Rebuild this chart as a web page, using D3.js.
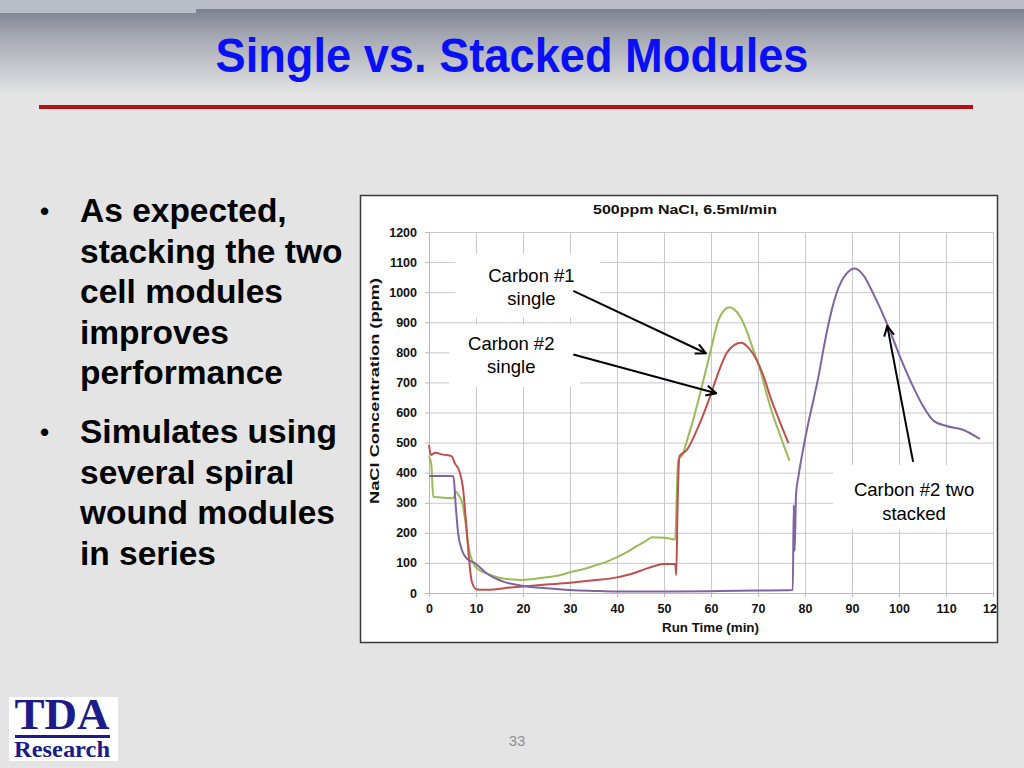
<!DOCTYPE html>
<html>
<head>
<meta charset="utf-8">
<script src="https://d3js.org/d3.v7.min.js"></script>
<style>
  body { margin: 0; background: #e4e4e4; }
  svg { display: block; }
</style>
</head>
<body>
<svg id="slide" width="1024" height="768"></svg>
<script>
// ---- data ----
const xTicks = [0, 10, 20, 30, 40, 50, 60, 70, 80, 90, 100, 110, 120];
const yTicks = [0, 100, 200, 300, 400, 500, 600, 700, 800, 900, 1000, 1100, 1200];

// Carbon #1 single (green)
const c1Time = [0, 0.5, 0.9, 2, 3, 4, 5.2, 5.7, 6.3, 7.0, 7.7, 8.4, 9.4, 10.5, 12.3, 14, 15.8, 17.5, 19.4, 22, 25, 28, 30, 33, 35, 38, 40, 42, 44, 46, 47.5, 50, 52.4, 52.7, 53.0, 54.1, 54.5, 56.2, 57.3, 58.4, 59.8, 61.6, 62.8, 63.9, 65, 66.2, 67.5, 69, 70.5, 71.8, 73, 74.3, 75.5, 76.7];
const c1Value = [455, 425, 320, 318, 317, 316, 315, 337, 325, 304, 243, 154, 99, 78, 65, 55, 48, 45, 43, 46, 52, 60, 69, 80, 90, 105, 119, 135, 154, 172, 185, 184, 178, 320, 440, 464, 486, 575, 640, 708, 797, 908, 940, 950, 942, 919, 875, 808, 740, 664, 600, 542, 490, 440];

// Carbon #2 single (red)
const c2Time = [0, 0.4, 1.3, 3, 4.8, 5.5, 6.5, 7.2, 7.9, 8.6, 9.1, 10.1, 12, 13.7, 16, 19.4, 25, 30, 35, 40, 43, 45, 48, 50, 52.4, 52.6, 52.9, 53.3, 54.1, 54.8, 57, 59.8, 61.5, 63.3, 65, 66.4, 68, 69.7, 71.2, 72.6, 74.5, 76.5];
const c2Value = [492, 459, 466, 460, 455, 431, 403, 353, 232, 99, 38, 12, 11, 12, 16, 21, 28, 34, 42, 52, 63, 74, 90, 96, 96, 60, 300, 455, 466, 475, 542, 653, 730, 797, 825, 832, 815, 775, 720, 653, 575, 498];

// Carbon #2 two stacked (purple)
const c3Time = [0, 2, 4, 5.2, 5.7, 6.2, 7.0, 8.0, 9.8, 12.3, 15.8, 19.4, 25, 30, 35, 40, 50, 60, 70, 77.4, 77.6, 77.8, 78.1, 78.6, 79.7, 80.7, 81.8, 83, 83.9, 84.8, 86.7, 88.9, 90.6, 92.4, 94.5, 97.4, 100.2, 103, 105.2, 107.3, 110.1, 113.7, 117.2];
const c3Value = [389, 389, 389, 388, 287, 198, 143, 115, 99, 65, 38, 25, 16, 10, 7, 5, 5, 6, 8, 10, 292, 140, 330, 387, 486, 565, 642, 730, 808, 880, 996, 1063, 1079, 1057, 996, 897, 786, 686, 619, 573, 555, 542, 512];

const seriesNames = ["Carbon #1 single", "Carbon #2 single", "Carbon #2 two stacked"];
const seriesColors = ["#9bbb59", "#c0504d", "#8064a2"];

const bullets = [
  ["As expected,", "stacking the two", "cell modules", "improves", "performance"],
  ["Simulates using", "several spiral", "wound modules", "in series"]
];

// annotation labels: text lines, anchor (time, ppm) of first baseline, box in data units
const noteText = [["Carbon #1", "single"], ["Carbon #2", "single"], ["Carbon #2 two", "stacked"]];
const noteAt = [[21.8, 1034], [17.5, 808], [103.2, 322]];
const noteBox = [[5.6, 36.4, 1127, 917], [4.3, 32.1, 893, 685], [86.0, 120, 425, 210]];
// arrows: from (time, ppm) to (time, ppm)
const arrowFrom = [[30.7, 1004], [30.7, 793], [103.0, 436]];
const arrowTo = [[58.9, 797], [61.1, 664], [97.5, 888]];

// ---- slide ----
const svg = d3.select("#slide");
const defs = svg.append("defs");

const bg = defs.append("linearGradient").attr("id", "topFade")
  .attr("x1", 0).attr("y1", 0).attr("x2", 0).attr("y2", 1);
bg.append("stop").attr("offset", "0%").attr("stop-color", "#7b818f");
bg.append("stop").attr("offset", "30%").attr("stop-color", "#a2a6b0");
bg.append("stop").attr("offset", "100%").attr("stop-color", "#e4e4e4");

svg.append("rect").attr("width", 1024).attr("height", 768).attr("fill", "#e4e4e4");
svg.append("rect").attr("x", 0).attr("y", 9).attr("width", 1024).attr("height", 85).attr("fill", "url(#topFade)");
svg.append("rect").attr("x", 0).attr("y", 0).attr("width", 1024).attr("height", 9).attr("fill", "#b9bdc7");
svg.append("rect").attr("x", 0).attr("y", 9).attr("width", 196).attr("height", 4).attr("fill", "#b9bdc7");

svg.append("text")
  .attr("x", 512).attr("y", 72)
  .attr("text-anchor", "middle")
  .attr("textLength", 593).attr("lengthAdjust", "spacingAndGlyphs")
  .style("font-family", "'Liberation Sans Narrow', 'Liberation Sans', Arial, sans-serif")
  .style("font-weight", "bold").style("font-size", "49px")
  .attr("fill", "#0a10f5")
  .text("Single vs. Stacked Modules");

svg.append("rect").attr("x", 39).attr("y", 105).attr("width", 934).attr("height", 4).attr("fill", "#b40f14");

// bullets
const bulletG = svg.append("g")
  .style("font-family", "'Liberation Sans', Arial, sans-serif")
  .style("font-weight", "bold").style("font-size", "33.5px").attr("fill", "#000");
const lineStarts = [222, 443];
bullets.forEach((lines, i) => {
  bulletG.append("text").attr("x", 40).attr("y", lineStarts[i] - 2).style("font-size", "26px").text("\u2022");
  lines.forEach((ln, j) => {
    bulletG.append("text").attr("x", 80).attr("y", lineStarts[i] + j * 40.5).text(ln);
  });
});

// page number
svg.append("text").attr("x", 517).attr("y", 746).attr("text-anchor", "middle")
  .style("font-family", "'Liberation Sans', Arial, sans-serif").style("font-size", "15px")
  .attr("fill", "#8f8f8f").text("33");

// logo
const logo = svg.append("g");
logo.append("rect").attr("x", 9).attr("y", 697).attr("width", 109).attr("height", 64).attr("fill", "#fff");
logo.append("text").attr("x", 62).attr("y", 729).attr("text-anchor", "middle")
  .attr("textLength", 95).attr("lengthAdjust", "spacingAndGlyphs")
  .style("font-family", "'Liberation Serif', 'Times New Roman', serif").style("font-weight", "bold")
  .style("font-size", "44px").attr("fill", "#1b1b8a").text("TDA");
logo.append("rect").attr("x", 15).attr("y", 735).attr("width", 95).attr("height", 3).attr("fill", "#1b1b8a");
logo.append("text").attr("x", 62).attr("y", 757).attr("text-anchor", "middle")
  .attr("textLength", 96).attr("lengthAdjust", "spacingAndGlyphs")
  .style("font-family", "'Liberation Serif', 'Times New Roman', serif").style("font-weight", "bold")
  .style("font-size", "23px").attr("fill", "#1b1b8a").text("Research");

// ---- chart ----
const box = { x: 360, y: 195, w: 638, h: 448 };
defs.append("clipPath").attr("id", "boxClip").append("rect")
  .attr("x", box.x).attr("y", box.y).attr("width", box.w).attr("height", box.h);

const chart = svg.append("g").attr("clip-path", "url(#boxClip)");
chart.append("rect").attr("x", box.x).attr("y", box.y).attr("width", box.w).attr("height", box.h)
  .attr("fill", "#fff");

const x = d3.scaleLinear().domain([0, 120]).range([429, 993]);
const y = d3.scaleLinear().domain([0, 1200]).range([593, 232]);
const plotW = x.range()[1] - x.range()[0];
const plotH = y.range()[0] - y.range()[1];

// gridlines
chart.append("g").attr("transform", `translate(${x(0)},0)`)
  .call(d3.axisLeft(y).tickValues(yTicks).tickSize(-plotW).tickSizeOuter(0).tickFormat(""))
  .call(g => g.select(".domain").remove())
  .call(g => g.selectAll("line").attr("stroke", "#c8c8d2").attr("stroke-width", 1));
chart.append("g").attr("transform", `translate(0,${y(0)})`)
  .call(d3.axisBottom(x).tickValues(xTicks).tickSize(-plotH).tickSizeOuter(0).tickFormat(""))
  .call(g => g.select(".domain").remove())
  .call(g => g.selectAll("line").attr("stroke", "#c8c8d2").attr("stroke-width", 1));

// tick labels
const tickFont = g => g.selectAll("text")
  .style("font-family", "'Liberation Sans', Arial, sans-serif")
  .style("font-weight", "bold").style("font-size", "12.5px").attr("fill", "#111");
chart.append("g").attr("transform", `translate(${x(0)},0)`)
  .call(d3.axisLeft(y).tickValues(yTicks).tickFormat(d3.format("d")).tickSize(4).tickPadding(8).tickSizeOuter(0))
  .call(g => g.select(".domain").attr("stroke", "#b8b8c2"))
  .call(g => g.selectAll("line").attr("stroke", "#b8b8c2"))
  .call(tickFont);
chart.append("g").attr("transform", `translate(0,${y(0)})`)
  .call(d3.axisBottom(x).tickValues(xTicks).tickFormat(d3.format("d")).tickSize(4).tickPadding(7).tickSizeOuter(0))
  .call(g => g.select(".domain").attr("stroke", "#b8b8c2"))
  .call(g => g.selectAll("line").attr("stroke", "#b8b8c2"))
  .call(tickFont);

// titles
chart.append("text").attr("x", 685).attr("y", 214).attr("text-anchor", "middle")
  .attr("textLength", 184).attr("lengthAdjust", "spacingAndGlyphs")
  .style("font-family", "'Liberation Sans', Arial, sans-serif")
  .style("font-weight", "bold").style("font-size", "13px").attr("fill", "#111")
  .text("500ppm NaCl, 6.5ml/min");
chart.append("text").attr("x", 710.5).attr("y", 632).attr("text-anchor", "middle")
  .attr("textLength", 97).attr("lengthAdjust", "spacingAndGlyphs")
  .style("font-family", "'Liberation Sans', Arial, sans-serif")
  .style("font-weight", "bold").style("font-size", "12px").attr("fill", "#111")
  .text("Run Time (min)");
chart.append("text").attr("transform", "translate(379,391) rotate(-90)").attr("text-anchor", "middle")
  .attr("textLength", 226).attr("lengthAdjust", "spacingAndGlyphs")
  .style("font-family", "'Liberation Sans', Arial, sans-serif")
  .style("font-weight", "bold").style("font-size", "12.5px").attr("fill", "#111")
  .text("NaCl Concentration (ppm)");

// annotation boxes (drawn over grid, under data)
noteBox.forEach(b => {
  chart.append("rect")
    .attr("x", x(b[0])).attr("y", y(b[2]))
    .attr("width", x(b[1]) - x(b[0])).attr("height", y(b[3]) - y(b[2]))
    .attr("fill", "#fff");
});

// series lines
const series = [
  { name: seriesNames[0], t: c1Time, v: c1Value, color: seriesColors[0] },
  { name: seriesNames[1], t: c2Time, v: c2Value, color: seriesColors[1] },
  { name: seriesNames[2], t: c3Time, v: c3Value, color: seriesColors[2] }
];
const line = d3.line().x(d => x(d[0])).y(d => y(d[1])).curve(d3.curveMonotoneX);
chart.append("g").selectAll("path")
  .data(series)
  .join("path")
  .attr("fill", "none")
  .attr("stroke", d => d.color)
  .attr("stroke-width", 2)
  .attr("stroke-linejoin", "round")
  .attr("d", d => line(d.t.map((t, i) => [t, d.v[i]])));

// annotation text
const noteG = chart.append("g")
  .style("font-family", "'Liberation Sans', Arial, sans-serif")
  .style("font-size", "18.5px").attr("fill", "#000");
noteText.forEach((lines, i) => {
  lines.forEach((ln, j) => {
    noteG.append("text")
      .attr("x", x(noteAt[i][0])).attr("y", y(noteAt[i][1]) + j * 23.5)
      .attr("text-anchor", "middle").text(ln);
  });
});

// arrows
defs.append("marker").attr("id", "arrowHead")
  .attr("viewBox", "0 0 12 12").attr("refX", 11).attr("refY", 6)
  .attr("markerWidth", 12).attr("markerHeight", 12).attr("markerUnits", "userSpaceOnUse")
  .attr("orient", "auto")
  .append("path").attr("d", "M1,1 L11,6 L1,11").attr("fill", "none")
  .attr("stroke", "#000").attr("stroke-width", 2);
arrowFrom.forEach((f, i) => {
  chart.append("line")
    .attr("x1", x(f[0])).attr("y1", y(f[1]))
    .attr("x2", x(arrowTo[i][0])).attr("y2", y(arrowTo[i][1]))
    .attr("stroke", "#000").attr("stroke-width", 2)
    .attr("marker-end", "url(#arrowHead)");
});

// chart frame
svg.append("rect").attr("x", box.x + 0.5).attr("y", box.y + 0.5)
  .attr("width", box.w - 1).attr("height", box.h - 1)
  .attr("fill", "none").attr("stroke", "#3a3a3a").attr("stroke-width", 1.5);
</script>
</body>
</html>
